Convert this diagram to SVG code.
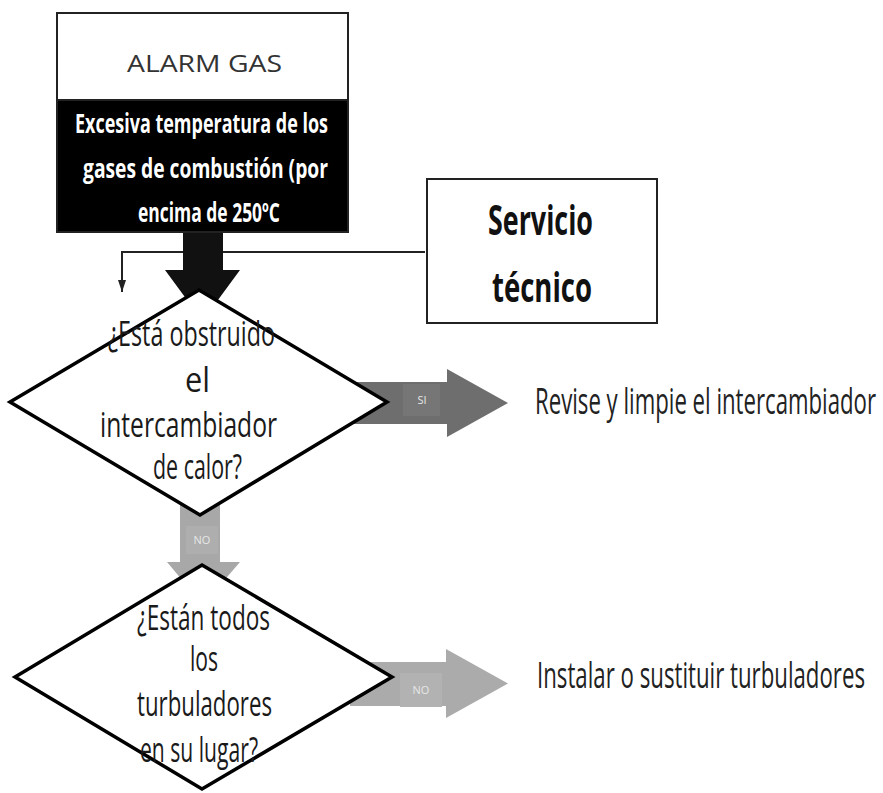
<svg xmlns="http://www.w3.org/2000/svg" width="883" height="793" viewBox="0 0 883 793">
<style>
.t{font-family:"Open Sans","Liberation Sans",sans-serif;}
.dt{font-family:"Open Sans","Liberation Sans",sans-serif;font-size:35px;fill:#1a1a1a;}
.rt{font-family:"Open Sans","Liberation Sans",sans-serif;font-size:36px;fill:#222;}
.wt{font-family:"Open Sans","Liberation Sans",sans-serif;font-size:26px;font-weight:bold;fill:#fff;}
.lbl{font-family:"Open Sans","Liberation Sans",sans-serif;font-size:11px;fill:#e6e6e6;text-anchor:middle;}
.dia{fill:#fff;stroke:#000;stroke-width:3.5;stroke-linejoin:miter;}
</style>
<defs>
<marker id="ah" markerWidth="12" markerHeight="18" refX="18" refY="6" orient="auto" markerUnits="userSpaceOnUse" viewBox="0 0 18 12">
<path d="M0,0 L18,6 L0,12 Z" fill="#222"/>
</marker>
</defs>
<rect width="883" height="793" fill="#fff"/>
<g id="connectors">
<path d="M425,252 H122 V292" fill="none" stroke="#222" stroke-width="2" marker-end="url(#ah)"/>
<polygon points="183,230 223,230 223,270 240,270 202.5,321 165,270 183,270" fill="#111"/>
<g id="arrow-si">
<polygon points="350,382 447,382 447,369 508,403 447,437 447,424 350,424" fill="#6e6e6e"/>
<rect x="403" y="384" width="37" height="32" fill="#767676"/>
<text class="lbl" x="422" y="404">SI</text>
</g>
<g id="arrow-no1">
<polygon points="180,480 220,480 220,562 240,562 203,605 167,562 180,562" fill="#a8a8a8"/>
<rect x="186" y="526" width="32" height="28" fill="#aeaeae"/>
<text class="lbl" x="202" y="544">NO</text>
</g>
<g id="arrow-no2">
<polygon points="350,662 446,662 446,649 508,683.5 446,718 446,706 350,706" fill="#ababab"/>
<rect x="400" y="673" width="42" height="34" fill="#b2b2b2"/>
<text class="lbl" x="421" y="694">NO</text>
</g>
</g>
<g id="alarm">
<rect x="57" y="13" width="291" height="219" fill="#000" stroke="#222" stroke-width="2"/>
<rect x="57" y="13" width="291" height="87" fill="#fff" stroke="#222" stroke-width="2"/>
<text class="t" x="127" y="72" font-size="24" fill="#333" textLength="155" lengthAdjust="spacingAndGlyphs">ALARM GAS</text>
<text class="wt" x="75" y="133" textLength="253" lengthAdjust="spacingAndGlyphs">Excesiva temperatura de los</text>
<text class="wt" x="83" y="178" textLength="245" lengthAdjust="spacingAndGlyphs">gases de combustión (por</text>
<text class="wt" x="138" y="222" textLength="142" lengthAdjust="spacingAndGlyphs">encima de 250ºC</text>
</g>
<g id="servicio">
<rect x="427" y="179" width="230" height="144" fill="#fff" stroke="#222" stroke-width="2"/>
<text class="t" x="488" y="235" font-size="42" font-weight="bold" fill="#111" textLength="105" lengthAdjust="spacingAndGlyphs">Servicio</text>
<text class="t" x="492" y="302" font-size="42" font-weight="bold" fill="#111" textLength="100" lengthAdjust="spacingAndGlyphs">técnico</text>
</g>
<g id="q1">
<polygon class="dia" points="199,290 387,402 200,515 10,402"/>
<text class="dt" x="108" y="346" textLength="167" lengthAdjust="spacingAndGlyphs">¿Está obstruido</text>
<text class="dt" x="185" y="392" textLength="25" lengthAdjust="spacingAndGlyphs">el</text>
<text class="dt" x="100" y="437" textLength="177" lengthAdjust="spacingAndGlyphs">intercambiador</text>
<text class="dt" x="153" y="479" textLength="89" lengthAdjust="spacingAndGlyphs">de calor?</text>
</g>
<g id="q2">
<polygon class="dia" points="202,565 392,677 202,789 15,677"/>
<text class="dt" x="137" y="630" textLength="133" lengthAdjust="spacingAndGlyphs">¿Están todos</text>
<text class="dt" x="190" y="671" textLength="28" lengthAdjust="spacingAndGlyphs">los</text>
<text class="dt" x="137" y="716" textLength="135" lengthAdjust="spacingAndGlyphs">turbuladores</text>
<text class="dt" x="140" y="762" textLength="118" lengthAdjust="spacingAndGlyphs">en su lugar?</text>
</g>
<g id="r1">
<text class="rt" x="535" y="414" textLength="341" lengthAdjust="spacingAndGlyphs">Revise y limpie el intercambiador</text>
</g>
<g id="r2">
<text class="rt" x="537" y="688" textLength="328" lengthAdjust="spacingAndGlyphs">Instalar o sustituir turbuladores</text>
</g>
</svg>
